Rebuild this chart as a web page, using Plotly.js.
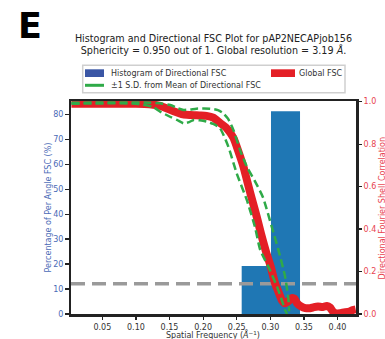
<!DOCTYPE html>
<html>
<head>
<meta charset="utf-8">
<script src="https://cdn.plot.ly/plotly-3.0.1.min.js"></script>
<style>html,body{margin:0;padding:0;background:#fff;}#chart{width:385px;height:339px;}</style>
</head>
<body>
<div id="chart"></div>
<script>
// Histogram of directional FSC (percent of per-angle FSC)
const binEdges = [0.2574, 0.301, 0.3442];
const binPercent = [19.2, 81.2];

// Global FSC curve
const globalFreq = [0.004, 0.05, 0.10, 0.12, 0.136, 0.156, 0.17, 0.181, 0.195, 0.205, 0.215, 0.225, 0.235, 0.245, 0.252, 0.26, 0.266, 0.273, 0.28, 0.286, 0.293, 0.3006, 0.307, 0.312, 0.317, 0.322, 0.327, 0.332, 0.336, 0.34, 0.346, 0.352, 0.359, 0.365, 0.371, 0.378, 0.384, 0.389, 0.393, 0.398, 0.404, 0.412, 0.418, 0.423, 0.427];
const globalFSC  = [0.99, 0.99, 0.99, 0.988, 0.98, 0.955, 0.94, 0.937, 0.935, 0.933, 0.925, 0.90, 0.875, 0.83, 0.77, 0.694, 0.62, 0.537, 0.455, 0.38, 0.30, 0.223, 0.145, 0.105, 0.066, 0.05, 0.06, 0.075, 0.072, 0.05, 0.035, 0.028, 0.027, 0.032, 0.035, 0.033, 0.038, 0.03, 0.012, 0.003, 0.004, 0.008, 0.012, 0.019, 0.022];

// +1 S.D. from mean of directional FSC
const upperFreq = [0.004, 0.12, 0.14, 0.151, 0.162, 0.171, 0.181, 0.19, 0.21, 0.222, 0.23, 0.237, 0.245, 0.255, 0.265, 0.278, 0.289, 0.302, 0.312, 0.322, 0.327, 0.328];
const upperFSC  = [0.995, 0.995, 0.99, 0.984, 0.97, 0.961, 0.963, 0.967, 0.967, 0.96, 0.945, 0.92, 0.867, 0.772, 0.694, 0.62, 0.55, 0.412, 0.302, 0.176, 0.066, 0.013];

// -1 S.D. from mean of directional FSC
const lowerFreq = [0.004, 0.10, 0.125, 0.136, 0.15, 0.161, 0.171, 0.18, 0.186, 0.195, 0.205, 0.215, 0.225, 0.2375, 0.25, 0.265, 0.277, 0.285, 0.297, 0.31, 0.317, 0.322, 0.325];
const lowerFSC  = [0.99, 0.99, 0.975, 0.953, 0.93, 0.914, 0.898, 0.905, 0.914, 0.912, 0.906, 0.895, 0.875, 0.788, 0.662, 0.537, 0.412, 0.302, 0.223, 0.129, 0.066, 0.019, 0.0];

const fscThreshold = 0.143;
const xRange = [0.0034, 0.4275];
const xTicks = [0.05, 0.10, 0.15, 0.20, 0.25, 0.30, 0.35, 0.40];
const leftTicks = [0, 10, 20, 30, 40, 50, 60, 70, 80];
const rightTicks = [0.0, 0.2, 0.4, 0.6, 0.8, 1.0];

const barCenters = binPercent.map((_, i) => (binEdges[i] + binEdges[i + 1]) / 2);
const barWidths = binPercent.map((_, i) => binEdges[i + 1] - binEdges[i]);

const BLUE_TXT = '#4a6ab6';
const RED_TXT = '#e8434f';
const RED = '#e41f26';
const GREEN = '#2faa48';
const FONT = 'DejaVu Sans, sans-serif';

const traces = [
  {type: 'bar', x: barCenters, y: binPercent, width: barWidths, marker: {color: '#1f77b4', line: {width: 0}}, yaxis: 'y', hoverinfo: 'skip'},
  {type: 'scatter', mode: 'lines', x: xRange, y: [fscThreshold, fscThreshold], yaxis: 'y2', line: {color: '#9a9a9a', width: 3.5, dash: '14px,7px'}, hoverinfo: 'skip'},
  {type: 'scatter', mode: 'lines', x: globalFreq, y: globalFSC, yaxis: 'y2', line: {color: RED, width: 8, shape: 'spline', smoothing: 0.6}, hoverinfo: 'skip'},
  {type: 'scatter', mode: 'lines', x: upperFreq, y: upperFSC, yaxis: 'y2', line: {color: GREEN, width: 2.5, dash: '8px,4px', shape: 'spline', smoothing: 0.6}, hoverinfo: 'skip'},
  {type: 'scatter', mode: 'lines', x: lowerFreq, y: lowerFSC, yaxis: 'y2', line: {color: GREEN, width: 2.5, dash: '8px,4px', shape: 'spline', smoothing: 0.6}, hoverinfo: 'skip'}
];

// pixel -> paper helpers (plot area: x 71..356, y 101..314)
const PL = 71, PR = 356, PT = 101, PB = 314;
const px = v => (v - PL) / (PR - PL);
const py = v => (PB - v) / (PB - PT);

const layout = {
  width: 385, height: 339,
  margin: {l: PL, r: 385 - PR, t: PT, b: 339 - PB, pad: 0},
  paper_bgcolor: '#fff', plot_bgcolor: '#fff',
  showlegend: false,
  font: {family: FONT, size: 8, color: '#333'},
  title: {
    text: 'Histogram and Directional FSC Plot for pAP2NECAPjob156<br>Sphericity = 0.950 out of 1. Global resolution = 3.19 <i>Å</i>.',
    font: {family: FONT, size: 9.6, color: '#222'},
    xref: 'paper', x: 0.5, xanchor: 'center',
    yref: 'container', y: 1 - 41.5 / 339, yanchor: 'middle'
  },
  xaxis: {
    range: xRange, tickvals: xTicks, tickformat: '.2f',
    showgrid: false, zeroline: false,
    showline: true, mirror: true, linecolor: '#222', linewidth: 2.5,
    ticks: 'outside', ticklen: 3.5, tickwidth: 1.2, tickcolor: '#222',
    tickfont: {family: FONT, size: 8, color: '#333'}
  },
  yaxis: {
    range: [0, 85.3], tickvals: leftTicks,
    showgrid: false, zeroline: false,
    showline: true, linecolor: '#222', linewidth: 2.5,
    ticks: 'outside', ticklen: 3.5, tickwidth: 1.2, tickcolor: '#222',
    tickfont: {family: FONT, size: 8, color: BLUE_TXT}
  },
  yaxis2: {
    range: [0, 1.003], tickvals: rightTicks, tickformat: '.1f',
    overlaying: 'y', side: 'right',
    showgrid: false, zeroline: false,
    showline: true, linecolor: '#222', linewidth: 2.5,
    ticks: 'outside', ticklen: 3.5, tickwidth: 1.2, tickcolor: '#222',
    tickfont: {family: FONT, size: 8, color: RED_TXT}
  },
  shapes: [
    {type: 'rect', xref: 'paper', yref: 'paper', x0: px(82.7), x1: px(345), y0: py(92.7), y1: py(65.3), line: {color: '#cfcfcf', width: 1.5}, fillcolor: '#fff', layer: 'above'},
    {type: 'rect', xref: 'paper', yref: 'paper', x0: px(85), x1: px(104), y0: py(77), y1: py(69.3), line: {width: 0}, fillcolor: '#3a56a5', layer: 'above'},
    {type: 'rect', xref: 'paper', yref: 'paper', x0: px(271), x1: px(295), y0: py(77), y1: py(69.3), line: {width: 0}, fillcolor: RED, layer: 'above'},
    {type: 'line', xref: 'paper', yref: 'paper', x0: px(85), x1: px(104), y0: py(85.3), y1: py(85.3), line: {color: GREEN, width: 3}, layer: 'above'}
  ],
  annotations: [
    {text: '<b>E</b>', xref: 'paper', yref: 'paper', x: px(16), y: py(26), xanchor: 'left', yanchor: 'middle', showarrow: false, font: {family: FONT, size: 35, color: '#000'}},
    {text: 'Histogram of Directional FSC', xref: 'paper', yref: 'paper', x: px(108.5), y: py(73.3), xanchor: 'left', yanchor: 'middle', showarrow: false, font: {family: FONT, size: 8, color: '#333'}},
    {text: 'Global FSC', xref: 'paper', yref: 'paper', x: px(296.5), y: py(73.3), xanchor: 'left', yanchor: 'middle', showarrow: false, font: {family: FONT, size: 8, color: '#333'}},
    {text: '±1 S.D. from Mean of Directional FSC', xref: 'paper', yref: 'paper', x: px(108.5), y: py(85.3), xanchor: 'left', yanchor: 'middle', showarrow: false, font: {family: FONT, size: 8, color: '#333'}},
    {text: 'Spatial Frequency (<i>Å</i><sup>−1</sup>)', xref: 'paper', yref: 'paper', x: px(213), y: py(334.5), xanchor: 'center', yanchor: 'middle', showarrow: false, font: {family: FONT, size: 8, color: '#333'}},
    {text: 'Percentage of Per Angle FSC (%)', xref: 'paper', yref: 'paper', x: px(47.5), y: py(208), xanchor: 'center', yanchor: 'middle', textangle: -90, showarrow: false, font: {family: FONT, size: 8, color: BLUE_TXT}},
    {text: 'Directional Fourier Shell Correlation', xref: 'paper', yref: 'paper', x: px(381.5), y: py(208), xanchor: 'center', yanchor: 'middle', textangle: -90, showarrow: false, font: {family: FONT, size: 8, color: RED_TXT}}
  ]
};

Plotly.newPlot('chart', traces, layout, {displayModeBar: false, staticPlot: true});
</script>
</body>
</html>
